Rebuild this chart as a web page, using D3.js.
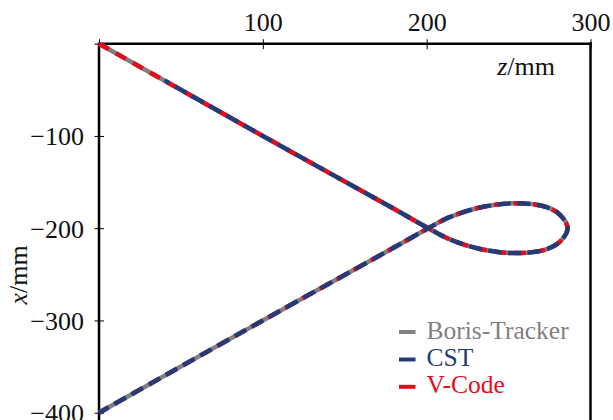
<!DOCTYPE html>
<html>
<head>
<meta charset="utf-8">
<script src="https://cdn.jsdelivr.net/npm/d3@7/dist/d3.min.js"></script>
<style>
  html, body { margin: 0; padding: 0; background: #fff; }
  svg { display: block; }
  svg text { font-family: "Liberation Serif", "Times New Roman", serif !important; }
</style>
</head>
<body>
<svg id="chart" width="613" height="420"></svg>
<script>
// ---- data (z in mm, x in mm) ----
const borisZ = [0, 100, 180, 201, 214, 232.6, 253, 272, 281.4, 286, 281.4, 272, 253, 232.6, 214, 201, 180, 100, 0];
const borisX = [0, -100, -179, -200, -212, -222.5, -227, -223.5, -214.5, -200, -185.5, -176.5, -173, -177.5, -188, -200, -221, -300, -400];
const cstZ   = [40, 100, 180, 201, 214, 232.6, 253, 272, 281.4, 286, 281.4, 272, 253, 232.6, 214, 201, 180, 100, 0];
const cstX   = [-39.8, -100, -179, -200, -212, -222.5, -227, -223.5, -214.5, -200, -185.5, -176.5, -173, -177.5, -188, -200, -221, -300, -400];
const vcodeZ = [0, 100, 180, 201, 214, 232.6, 253, 272, 281.4, 286, 281.4, 272, 253, 232.6, 214, 201, 180, 100, 0];
const vcodeX = [0, -100, -179, -200, -212, -222.5, -227, -223.5, -214.5, -200, -185.5, -176.5, -173, -177.5, -188, -200, -221, -300, -400];

const zTicks = [0, 100, 200, 300];
const xTicks = [0, -100, -200, -300, -400];
const seriesNames = ["Boris-Tracker", "CST", "V-Code"];
const seriesColors = ["#808080", "#253b77", "#e30b1d"];

(function () {
const FONT = '"Liberation Serif", "Times New Roman", serif';
// ---- layout ----
const svg = d3.select("#chart");
const W = 613, H = 420;
const mLeft = 99, mRight = 590.5, mTop = 43.7;

const x = d3.scaleLinear().domain([0, 300]).range([mLeft, mRight]);
const y = d3.scaleLinear().domain([0, -400]).range([mTop, 412.7]);

const line = d3.line()
  .x(d => x(d[0]))
  .y(d => y(d[1]))
  .curve(d3.curveCatmullRom.alpha(0.5));

const zip = (a, b) => a.map((v, i) => [v, b[i]]);
const boris = zip(borisZ, borisX);
const cst = zip(cstZ, cstX);
const vcode = zip(vcodeZ, vcodeX);

// ---- axes ----
const fs = 26;

const topAxis = d3.axisTop(x).tickValues(zTicks)
  .tickFormat(d => d === 0 ? "" : d3.format("d")(d))
  .tickSizeOuter(0);
const gTop = svg.append("g").attr("transform", `translate(0,${mTop})`).call(topAxis)
  .attr("font-family", FONT).attr("font-size", fs);
gTop.select(".domain").remove();
gTop.selectAll(".tick line").attr("y1", 5.5).attr("y2", -4.5).attr("stroke", "#000").attr("stroke-width", 1);
gTop.selectAll(".tick text").attr("y", -12.3).attr("dy", "0").attr("fill", "#111");

const leftAxis = d3.axisLeft(y).tickValues(xTicks)
  .tickFormat(d => d === 0 ? "" : "\u2212" + Math.abs(d))
  .tickSizeOuter(0);
const gLeft = svg.append("g").attr("transform", `translate(${mLeft},0)`).call(leftAxis)
  .attr("font-family", FONT).attr("font-size", fs);
gLeft.select(".domain").remove();
gLeft.selectAll(".tick line").attr("x1", 5).attr("x2", -4.5).attr("stroke", "#000").attr("stroke-width", 1);
gLeft.selectAll(".tick text").attr("x", -15).attr("dy", "0.34em").attr("fill", "#111");

// spines
svg.append("line").attr("x1", mLeft).attr("x2", mRight + 1.2).attr("y1", mTop).attr("y2", mTop)
  .attr("stroke", "#000").attr("stroke-width", 2.5);
svg.append("line").attr("x1", mLeft).attr("x2", mLeft).attr("y1", mTop - 1.2).attr("y2", H)
  .attr("stroke", "#000").attr("stroke-width", 2.5);
svg.append("line").attr("x1", mRight).attr("x2", mRight).attr("y1", mTop - 1.2).attr("y2", H)
  .attr("stroke", "#000").attr("stroke-width", 2.5);

// ---- series ----
const redDash = [11.5, 8];
const blueDash = [13.2, 6.5];
const pRed = redDash[0] + redDash[1];
const s0 = Math.hypot(x(cstZ[0]) - x(0), y(cstX[0]) - y(0));
const blueOffset = (((s0 - 9) % pRed) + pRed) % pRed;

svg.append("path").datum(boris).attr("d", line)
  .attr("fill", "none").attr("stroke", seriesColors[0]).attr("stroke-width", 4.5);
svg.append("path").datum(vcode).attr("d", line)
  .attr("fill", "none").attr("stroke", seriesColors[2]).attr("stroke-width", 4.5)
  .attr("stroke-dasharray", redDash.join(","));
svg.append("path").datum(cst).attr("d", line)
  .attr("fill", "none").attr("stroke", seriesColors[1]).attr("stroke-width", 4.5)
  .attr("stroke-dasharray", blueDash.join(","))
  .attr("stroke-dashoffset", blueOffset);

// ---- axis labels ----
const zl = svg.append("text").attr("x", 555).attr("y", 75).attr("text-anchor", "end")
  .attr("font-family", FONT).attr("font-size", fs).attr("fill", "#111");
zl.append("tspan").attr("font-style", "italic").text("z");
zl.append("tspan").text("/mm");

const xl = svg.append("text").attr("transform", "translate(27,275) rotate(-90)")
  .attr("text-anchor", "middle").attr("font-family", FONT).attr("font-size", fs).attr("fill", "#111");
xl.append("tspan").attr("font-style", "italic").text("x");
xl.append("tspan").text("/mm");

// ---- legend ----
const leg = svg.append("g").attr("font-family", FONT).attr("font-size", 25.5);
const legBase = [338.5, 366, 393.3];
seriesNames.forEach((name, i) => {
  leg.append("line").attr("x1", 399).attr("x2", 415.5)
    .attr("y1", legBase[i] - 6.5).attr("y2", legBase[i] - 6.5)
    .attr("stroke", seriesColors[i]).attr("stroke-width", 4);
  leg.append("text").attr("x", 426.5).attr("y", legBase[i])
    .attr("fill", seriesColors[i]).text(name);
});
})();
</script>
</body>
</html>
